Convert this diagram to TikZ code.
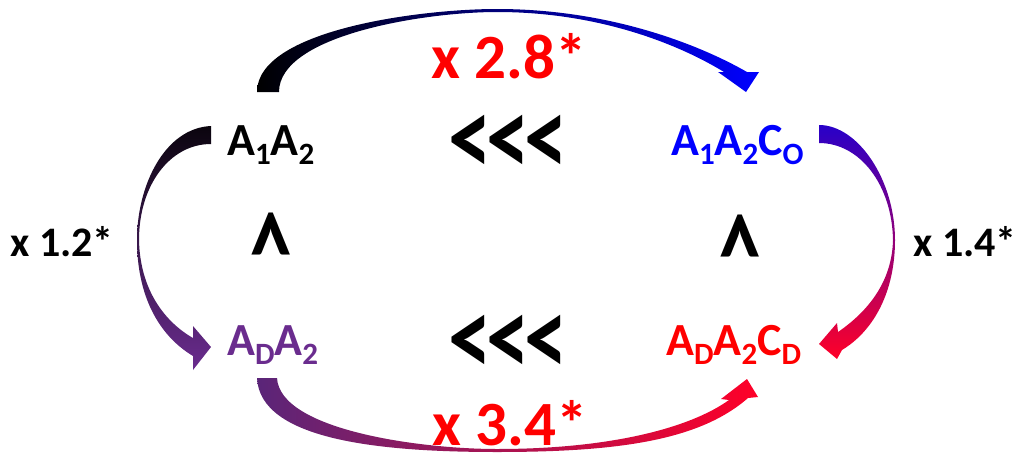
\documentclass[tikz,border=0pt]{standalone}
\usepackage{fontspec}
\setmainfont{Carlito}
\usetikzlibrary{positioning}
\definecolor{blu}{HTML}{0000FF}
\definecolor{prp}{HTML}{6A2C8E}
\definecolor{rd}{HTML}{FF0000}
\definecolor{violet}{RGB}{40,0,200}
\definecolor{magenta}{RGB}{170,10,170}
\definecolor{crimson}{RGB}{255,0,40}
\newcommand{\sbs}[1]{\raisebox{-0.21em}{\fontsize{31}{31}\selectfont #1}}
\newcommand{\lll}{\scalebox{0.87}[1.12]{<\kern-6pt<\kern-6pt<}}
\newcommand{\gtr}{\scalebox{1.12}[0.87]{<}}
\tikzset{
  lbl/.style={font=\fontsize{46}{50}\selectfont\bfseries,inner sep=0pt,anchor=base west},
  rel/.style={font=\fontsize{100}{104}\selectfont\bfseries,inner sep=0pt},
  bigfac/.style={rd,font=\fontsize{63}{66}\selectfont\bfseries,inner sep=0pt},
  smallfac/.style={font=\fontsize{42}{46}\selectfont\bfseries,inner sep=0pt}
}

\begin{document}
\begin{tikzpicture}[x=1pt,y=-1pt]
  \useasboundingbox (0,0) rectangle (1019,455);
  % species
  \node[lbl] (a1a2) at (227,155) {A\sbs{1}A\sbs{2}};
  \node[lbl,blu] (a1a2co) at (671,155) {A\sbs{1}A\sbs{2}C\sbs{O}};
  \node[lbl,prp] (ada2) at (227,355) {A\sbs{D}A\sbs{2}};
  \node[lbl,rd] (ada2cd) at (666,355) {A\sbs{D}A\sbs{2}C\sbs{D}};
  % relations
  \node[rel] (lttop) at (508,145) {\lll};
  \node[rel] (ltbot) at (508,345) {\lll};
  \node[rel,rotate=-90] (geleft) at (267,236) {\gtr};
  \node[rel,rotate=-90] (geright) at (736,238) {\gtr};
  % factors
  \node[bigfac] (ftop) at (509,56) {x 2.8*};
  \node[bigfac] (fbot) at (510,423) {x 3.4*};
  \node[smallfac] (fleft) at (62,242) {x 1.2*};
  \node[smallfac] (fright) at (965,242) {x 1.4*};
  % curved arrows
  \shade[left color=black,right color=blu]
    (257,92) .. controls (257,30) and (420,9) .. (497,9)
    .. controls (610,9) and (700,45) .. (747,72)
    -- (759,72) -- (746,92) -- (718,72) -- (724,72)
    .. controls (680,45) and (600,12) .. (497,12)
    .. controls (425,12) and (279,35) .. (279,92) -- cycle;
  \shade[top color=violet,middle color=magenta,bottom color=crimson]
    (819,125) .. controls (858,125) and (895,180) .. (895,240)
    .. controls (895,290) and (875,330) .. (842,350)
    -- (837,359) -- (819,344) -- (837,323) -- (838,332)
    .. controls (870,310) and (892,280) .. (893,240)
    .. controls (892,185) and (860,143) .. (819,143) -- cycle;
  \shade[top color=black!90!prp,bottom color=prp]
    (211,126) .. controls (165,128) and (137,185) .. (137,240)
    .. controls (137,295) and (158,335) .. (193,356)
    -- (193,370) -- (211,347) -- (193,326) -- (193,338)
    .. controls (165,322) and (140,290) .. (139,240)
    .. controls (139,185) and (170,144) .. (211,144) -- cycle;
  \shade[left color=prp!85!black,right color=crimson]
    (257,378) .. controls (260,440) and (380,452) .. (497,452)
    .. controls (620,452) and (700,440) .. (748,398)
    -- (758,397) -- (747,379) -- (721,399) -- (729,400)
    .. controls (690,428) and (610,449) .. (497,449)
    .. controls (420,449) and (280,430) .. (277,378) -- cycle;
\end{tikzpicture}
\end{document}
